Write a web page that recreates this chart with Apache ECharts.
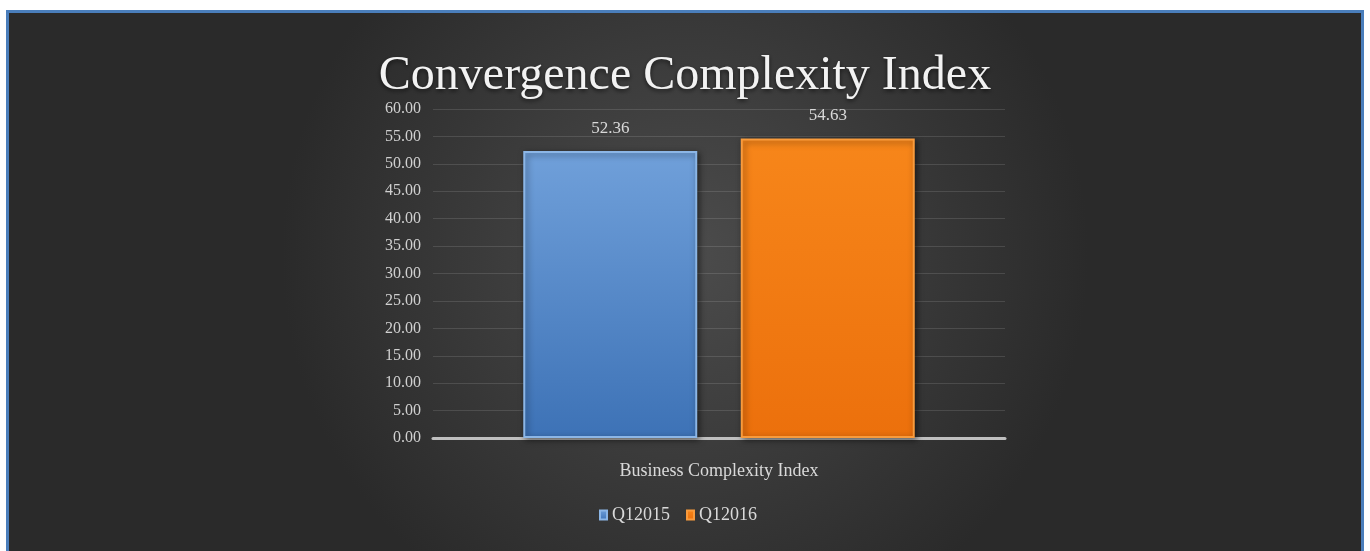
<!DOCTYPE html>
<html>
<head>
<meta charset="utf-8">
<script src="https://cdn.jsdelivr.net/npm/echarts@6/dist/echarts.min.js"></script>
<style>
  html, body { margin: 0; padding: 0; background: #fff; }
  .frame {
    position: absolute; left: 6px; top: 10px; width: 1358px; height: 541px;
    box-sizing: border-box; border: 3px solid #4a7ebb; border-bottom: none;
  }
  #chart { width: 1352px; height: 538px; }
</style>
</head>
<body>
<div class="frame"><div id="chart"></div></div>
<script>
var categories = ["Business Complexity Index"];
var seriesNames = ["Q12015", "Q12016"];
var q2015 = [52.36];
var q2016 = [54.63];

var serif = "'Liberation Serif', 'DejaVu Serif', serif";
var chart = echarts.init(document.getElementById("chart"));

function barColor(top, bottom) {
  return new echarts.graphic.LinearGradient(0, 0, 0, 1, [
    { offset: 0, color: top },
    { offset: 1, color: bottom }
  ]);
}

var option = {
  backgroundColor: {
    type: "radial", x: 0.5, y: 0.45, r: 0.75,
    colorStops: [
      { offset: 0, color: "#4c4c4c" },
      { offset: 1, color: "#2a2a2a" }
    ]
  },
  title: {
    text: "Convergence Complexity Index",
    left: "center",
    top: 34,
    textStyle: {
      fontFamily: serif, fontSize: 48, fontWeight: "normal", color: "#f2f2f2",
      textShadowColor: "rgba(0,0,0,0.6)", textShadowBlur: 4, textShadowOffsetY: 2
    }
  },
  legend: {
    data: seriesNames,
    bottom: 22,
    left: 585,
    icon: "rect",
    itemWidth: 7, itemHeight: 9, itemGap: 16,
    textStyle: { fontFamily: serif, fontSize: 18, color: "#d9d9d9" }
  },
  grid: { left: 424, right: 356, top: 96, bottom: 113, containLabel: false },
  xAxis: {
    type: "category",
    data: categories,
    axisLine: { lineStyle: { color: "#bfbfbf", width: 3 } },
    axisTick: { show: false },
    axisLabel: {
      margin: 24,
      fontFamily: serif, fontSize: 18, color: "#d9d9d9"
    }
  },
  yAxis: {
    type: "value",
    min: 0, max: 60, interval: 5,
    axisLine: { show: false },
    axisTick: { show: false },
    splitLine: { lineStyle: { color: "rgba(255,255,255,0.12)", width: 1 } },
    axisLabel: {
      margin: 12,
      formatter: function (v) { return v.toFixed(2); },
      fontFamily: serif, fontSize: 16, color: "#d0d0d0"
    }
  },
  series: [
    {
      name: seriesNames[0],
      type: "bar",
      data: q2015,
      barWidth: 174,
      barGap: "25%",
      itemStyle: {
        color: barColor("#70a0da", "#3d72b6"),
        borderColor: "#8cb6e6", borderWidth: 2,
        shadowColor: "rgba(0,0,0,0.5)", shadowBlur: 6, shadowOffsetX: 2, shadowOffsetY: 2
      },
      label: {
        show: true, position: "top", distance: 14,
        formatter: function (p) { return p.value.toFixed(2); },
        fontFamily: serif, fontSize: 17, color: "#d9d9d9"
      }
    },
    {
      name: seriesNames[1],
      type: "bar",
      data: q2016,
      barWidth: 174,
      itemStyle: {
        color: barColor("#f7861a", "#ec700c"),
        borderColor: "#f99b3c", borderWidth: 2,
        shadowColor: "rgba(0,0,0,0.5)", shadowBlur: 6, shadowOffsetX: 2, shadowOffsetY: 2
      },
      label: {
        show: true, position: "top", distance: 14,
        formatter: function (p) { return p.value.toFixed(2); },
        fontFamily: serif, fontSize: 17, color: "#d9d9d9"
      }
    }
  ]
};

chart.setOption(option);
</script>
</body>
</html>
